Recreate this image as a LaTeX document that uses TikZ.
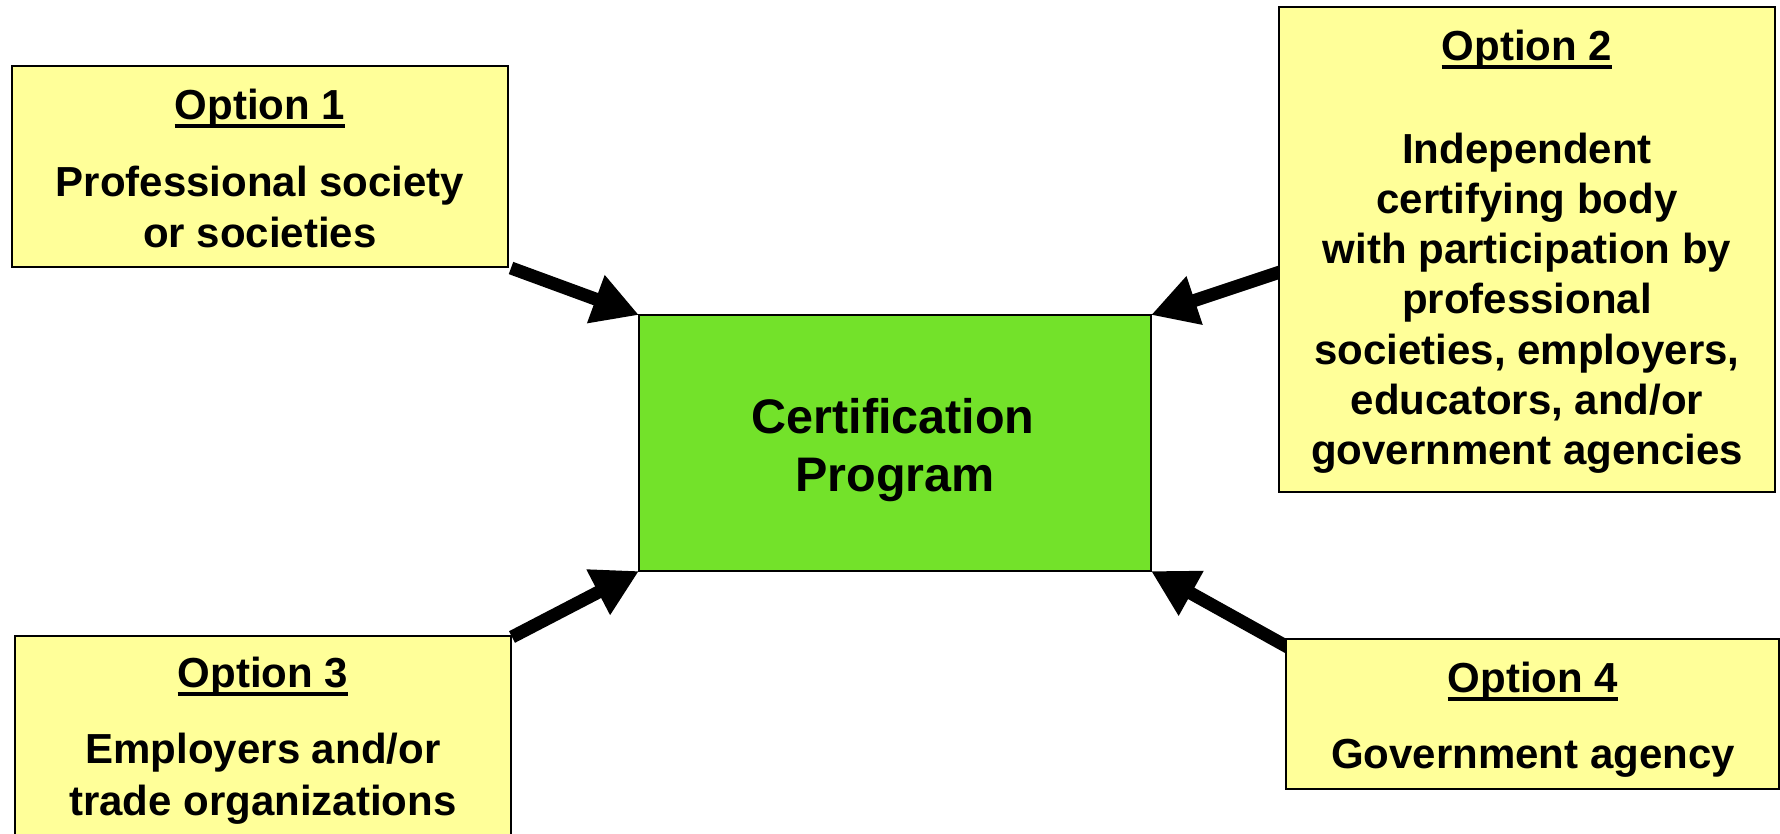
\documentclass[tikz,border=0pt]{standalone}
\usepackage{fontspec}
\setmainfont{Liberation Sans}
\usetikzlibrary{arrows.meta}
\definecolor{boxyellow}{RGB}{255,255,153}
\definecolor{progreen}{RGB}{115,226,42}
\begin{document}
\begin{tikzpicture}[x=1pt,y=-1pt,
  optbox/.style={draw=black,line width=2pt,fill=boxyellow,anchor=north west,inner sep=0pt,outer sep=0pt},
  progbox/.style={draw=black,line width=2pt,fill=progreen,anchor=north west,inner sep=0pt,outer sep=0pt},
  txt/.style={anchor=base,inner sep=0pt,font=\fontsize{42}{50}\selectfont\bfseries},
  bigtxt/.style={anchor=base,inner sep=0pt,font=\fontsize{48.5}{58}\selectfont\bfseries},
  uline/.style={line width=4pt},
  arr/.style={line width=13pt,-{Triangle[length=46pt,width=48pt]}}
]
\path[use as bounding box, clip] (0,0) rectangle (1780,833);
\fill[white] (0,0) rectangle (1780,833);

% central box
\node[progbox, minimum width=512pt, minimum height=256pt] (cp) at (639,315) {};

% arrow tails
\coordinate (t1) at (511,268);
\coordinate (t2) at (1286,270);
\coordinate (t3) at (512,637);
\coordinate (t4) at (1293,650);

\draw[arr] (t1) -- (cp.north west);
\draw[arr] (t2) -- (cp.north east);
\draw[arr] (t3) -- (cp.south west);
\draw[arr] (t4) -- (cp.south east);

\node[optbox, minimum width=496.5pt, minimum height=201pt] (b1) at (11.5,66) {};
\node[optbox, minimum width=496pt, minimum height=485pt] (b2) at (1279,7) {};
\node[optbox, minimum width=496.5pt, minimum height=210pt] (b3) at (14.5,636) {};
\node[optbox, minimum width=493pt, minimum height=150pt] (b4) at (1286,639) {};

% Option 1
\node[txt] (o1) at (260,119) {Option 1};
\draw[uline] ([yshift=-6.5pt]o1.base west) -- ([yshift=-6.5pt]o1.base east);
\node[txt] (o1a) at (260,196) {Professional society};
\node[txt] (o1b) at (260,247) {or societies};

% Option 2
\node[txt] (o2) at (1527,60) {Option 2};
\draw[uline] ([yshift=-6.5pt]o2.base west) -- ([yshift=-6.5pt]o2.base east);
\node[txt] (o2a) at (1527,163) {Independent};
\node[txt] (o2b) at (1527,213.3) {certifying body};
\node[txt] (o2c) at (1527,263.6) {with participation by};
\node[txt] (o2d) at (1527,313.9) {professional};
\node[txt] (o2e) at (1527,364.2) {societies, employers,};
\node[txt] (o2f) at (1527,414.5) {educators, and/or};
\node[txt] (o2g) at (1527,464.8) {government agencies};

% Option 3
\node[txt] (o3) at (263,687) {Option 3};
\draw[uline] ([yshift=-6.5pt]o3.base west) -- ([yshift=-6.5pt]o3.base east);
\node[txt] (o3a) at (263,763) {Employers and/or};
\node[txt] (o3b) at (263,815) {trade organizations};

% Option 4
\node[txt] (o4) at (1533,692) {Option 4};
\draw[uline] ([yshift=-6.5pt]o4.base west) -- ([yshift=-6.5pt]o4.base east);
\node[txt] (o4a) at (1533,768) {Government agency};

% Center
\node[bigtxt] (c1) at (893,433) {Certification};
\node[bigtxt] (c2) at (895,491) {Program};
\end{tikzpicture}
\end{document}
